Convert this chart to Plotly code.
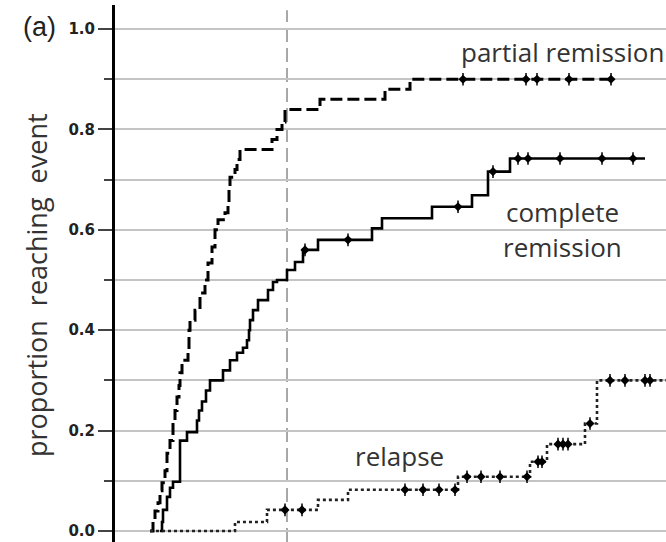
import plotly.graph_objects as go

# time axis (arbitrary units), proportion reaching event
partial_t = [35, 38, 40, 43, 45, 47, 50, 52, 55, 58, 60, 62, 64, 65, 67, 73, 74, 75, 80, 85, 90, 93,
             97, 100, 103, 110, 113, 114, 115, 120, 122, 125, 157, 162, 167, 170, 205, 270, 295, 498]
partial_p = [0.0, 0.018, 0.04, 0.056, 0.08, 0.096, 0.12, 0.155, 0.18, 0.22, 0.24, 0.267, 0.29, 0.315,
             0.34, 0.36, 0.40, 0.42, 0.44, 0.474, 0.50, 0.534, 0.566, 0.60, 0.62, 0.634, 0.653, 0.68,
             0.705, 0.72, 0.74, 0.76, 0.78, 0.80, 0.815, 0.84, 0.86, 0.88, 0.90, 0.90]
partial_cens_t = [348, 411, 422, 454, 496]
partial_cens_p = [0.90, 0.90, 0.90, 0.90, 0.90]

complete_t = [45, 47, 48, 52, 55, 58, 65, 72, 82, 84, 87, 91, 95, 108, 115, 122, 128, 132, 134, 135,
              138, 143, 153, 158, 162, 172, 180, 188, 203, 257, 267, 317, 357, 373, 395, 530]
complete_p = [0.0, 0.018, 0.042, 0.068, 0.086, 0.098, 0.18, 0.197, 0.22, 0.24, 0.258, 0.28, 0.30,
              0.32, 0.34, 0.355, 0.365, 0.38, 0.40, 0.42, 0.44, 0.46, 0.48, 0.496, 0.50, 0.52, 0.536,
              0.56, 0.58, 0.603, 0.623, 0.646, 0.669, 0.716, 0.742, 0.742]
complete_cens_t = [190, 233, 343, 378, 403, 413, 445, 487, 518]
complete_cens_p = [0.56, 0.58, 0.646, 0.716, 0.742, 0.742, 0.742, 0.742, 0.742]

relapse_t = [35, 120, 152, 203, 233, 343, 415, 432, 470, 482, 551]
relapse_p = [0.0, 0.018, 0.042, 0.062, 0.082, 0.108, 0.138, 0.173, 0.214, 0.30, 0.30]
relapse_cens_t = [170, 187, 290, 308, 324, 340, 352, 366, 385, 412, 423, 427, 443, 448, 453, 475,
                  495, 510, 530, 535]
relapse_cens_p = [0.042, 0.042, 0.082, 0.082, 0.082, 0.082, 0.108, 0.108, 0.108, 0.108, 0.138, 0.138,
                  0.173, 0.173, 0.173, 0.214, 0.30, 0.30, 0.30, 0.30]

landmark_t = 172
y_ticks = [0.0, 0.2, 0.4, 0.6, 0.8, 1.0]
y_ticklabels = ["0.0", "0.2", "0.4", "0.6", "0.8", "1.0"]

fig = go.Figure()

fig.add_trace(go.Scatter(x=partial_t, y=partial_p, mode="lines", line_shape="hv",
                         line=dict(color="black", width=3, dash="12px,5px"), hoverinfo="skip"))
fig.add_trace(go.Scatter(x=complete_t, y=complete_p, mode="lines", line_shape="hv",
                         line=dict(color="black", width=2.6), hoverinfo="skip"))
fig.add_trace(go.Scatter(x=relapse_t, y=relapse_p, mode="lines", line_shape="hv",
                         line=dict(color="#222", width=2.6, dash="3px,3px"), hoverinfo="skip"))

for tx, py in [(partial_cens_t, partial_cens_p), (complete_cens_t, complete_cens_p),
               (relapse_cens_t, relapse_cens_p)]:
    fig.add_trace(go.Scatter(x=tx, y=py, mode="markers",
                             marker=dict(symbol="diamond", size=7, color="black"), hoverinfo="skip"))
    fig.add_trace(go.Scatter(x=tx, y=py, mode="markers",
                             marker=dict(symbol="line-ns", size=9, color="black",
                                         line=dict(color="black", width=1.5)), hoverinfo="skip"))

fig.add_shape(type="line", xref="x", yref="paper", x0=landmark_t, x1=landmark_t, y0=0, y1=0.99,
              line=dict(color="#8c8c8c", width=1.5, dash="14px,6px"), layer="below")

lab_font = dict(family="Open Sans", size=26, color="#333")
fig.add_annotation(x=447, y=0.954, xref="x", yref="y", text="partial remission", showarrow=False,
                   font=lab_font, xanchor="center", yanchor="middle")
fig.add_annotation(x=447, y=0.635, xref="x", yref="y", text="complete", showarrow=False,
                   font=lab_font, xanchor="center", yanchor="middle")
fig.add_annotation(x=447, y=0.566, xref="x", yref="y", text="remission", showarrow=False,
                   font=lab_font, xanchor="center", yanchor="middle")
fig.add_annotation(x=284, y=0.149, xref="x", yref="y", text="relapse", showarrow=False,
                   font=lab_font, xanchor="center", yanchor="middle")

# paper coords are relative to the plot area (x: 115..666 px, y: 5..542 px)
fig.add_annotation(x=(36 - 115) / 551, y=(542 - 285) / 537, xref="paper", yref="paper",
                   text="proportion  reaching  event", textangle=-90, showarrow=False,
                   font=dict(family="Open Sans", size=27, color="#333"),
                   xanchor="center", yanchor="middle")
fig.add_annotation(x=(39 - 115) / 551, y=(542 - 27) / 537, xref="paper", yref="paper", text="(a)",
                   showarrow=False, font=dict(family="Liberation Sans", size=27, color="#222"),
                   xanchor="center", yanchor="middle")

fig.update_layout(
    width=666, height=542,
    margin=dict(l=115, r=0, t=5, b=0),
    paper_bgcolor="white", plot_bgcolor="white",
    showlegend=False,
    xaxis=dict(range=[0, 551], visible=False),
    yaxis=dict(range=[-0.022, 1.048], tickvals=y_ticks, ticktext=y_ticklabels,
               showline=True, linewidth=3, linecolor="black", zeroline=False,
               ticks="outside", ticklen=14, tickwidth=1.5, tickcolor="#444",
               tickfont=dict(family="DejaVu Sans", size=15, color="#222", weight="bold"),
               showgrid=True, gridcolor="#c4c4c4", gridwidth=1.5,
               minor=dict(dtick=0.1, tick0=0, ticks="outside", ticklen=8, tickwidth=1.5,
                          tickcolor="#444", showgrid=True, gridcolor="#c4c4c4", gridwidth=1.5)),
)

fig.write_html("out.html")
